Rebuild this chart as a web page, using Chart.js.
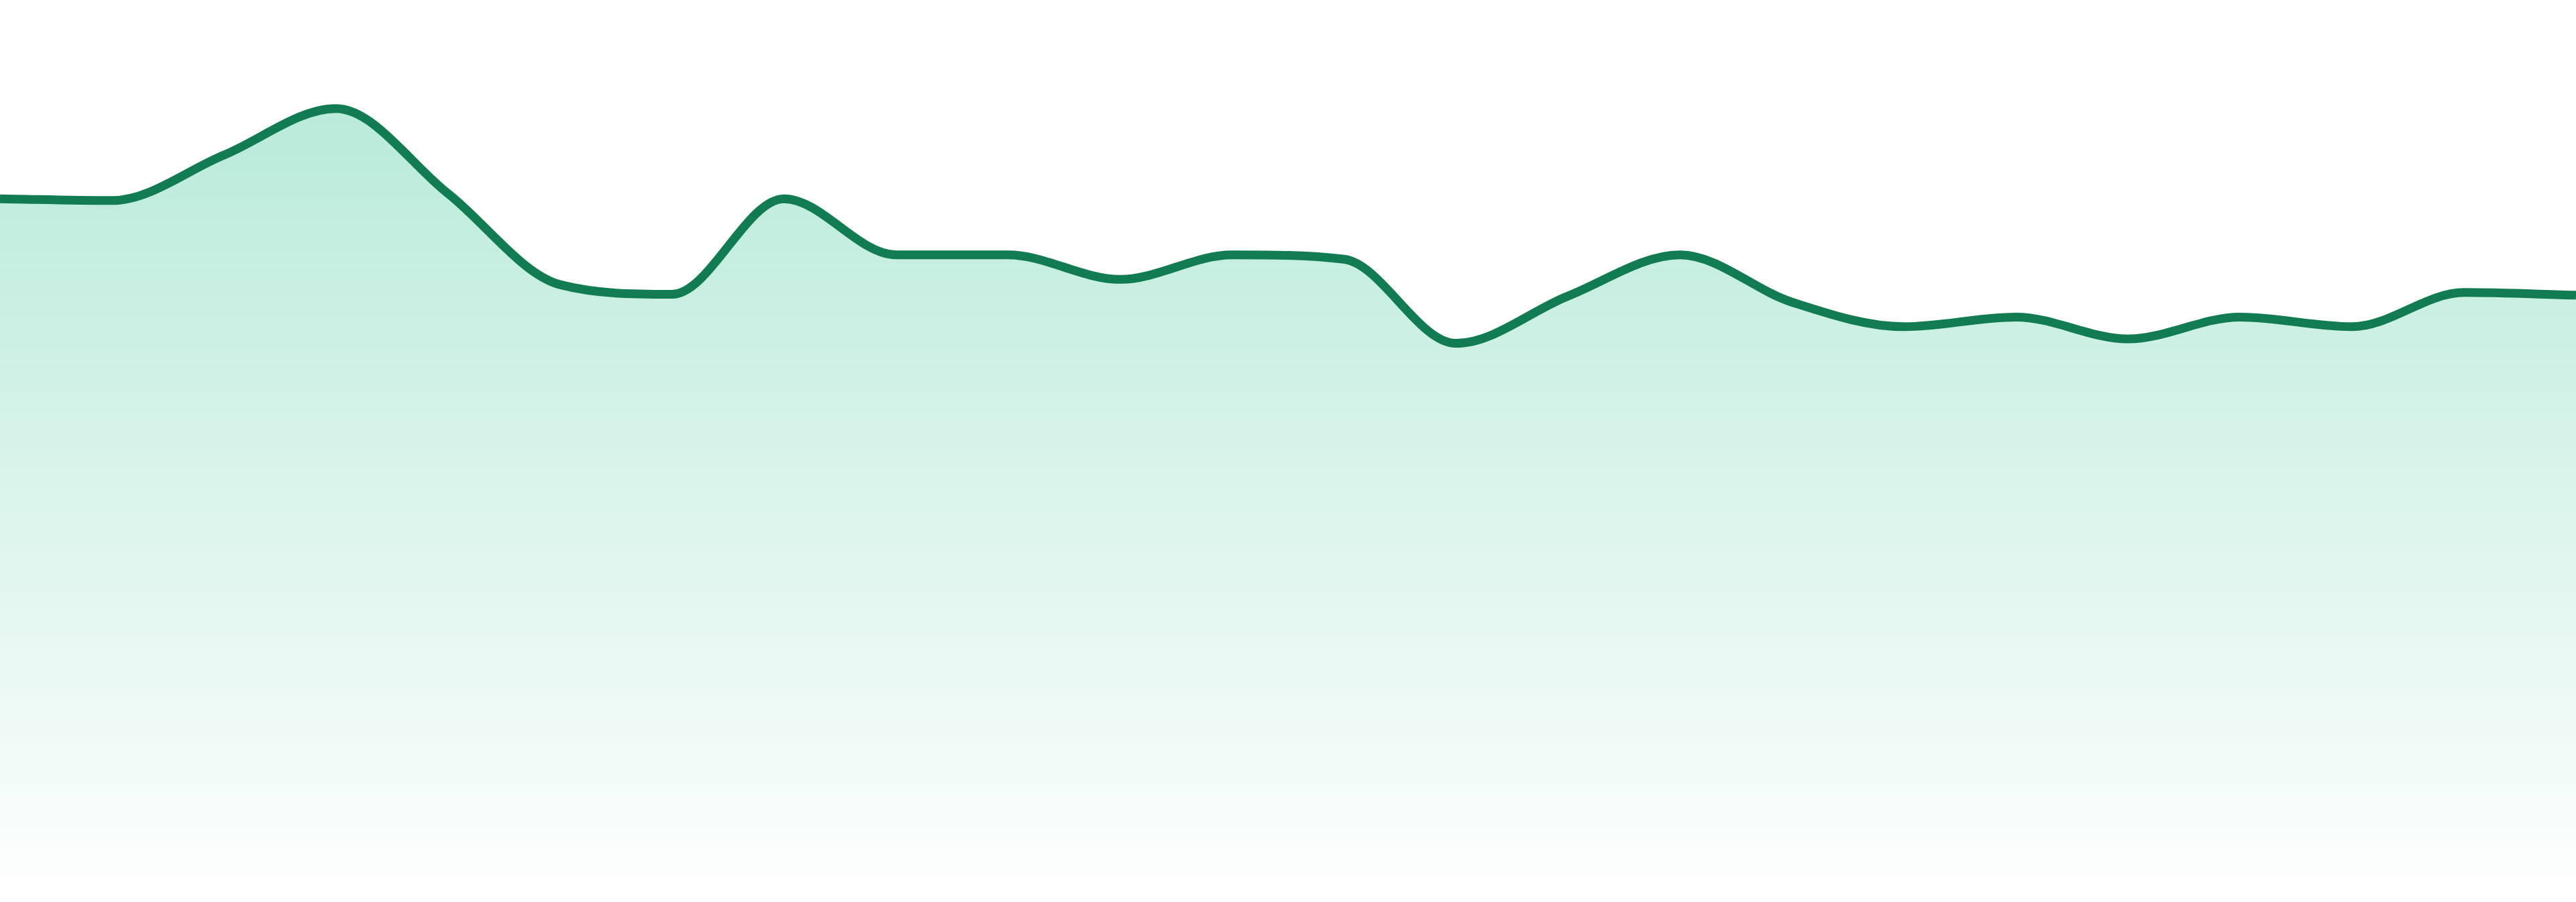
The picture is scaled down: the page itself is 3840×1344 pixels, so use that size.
<!DOCTYPE html>
<html>
<head>
<meta charset="utf-8">
<script src="https://cdn.jsdelivr.net/npm/chart.js@4/dist/chart.umd.min.js"></script>
<style>
  html, body { margin: 0; padding: 0; background: #ffffff; }
  #wrap { width: 3840px; height: 1344px; }
</style>
</head>
<body>
<div id="wrap"><canvas id="trendChart"></canvas></div>
<script>
// TREND AREA CHART

const labels = ['1', '2', '3', '4', '5', '6', '7', '8', '9', '10', '11', '12',
  '13', '14', '15', '16', '17', '18', '19', '20', '21', '22', '23', '24'];

const values = [77.3, 77.1, 82.3, 87.6, 77.9, 67.5, 66.4, 77.3, 70.9, 70.9, 68.1, 70.9,
  70.4, 60.8, 66.2, 70.9, 65.5, 62.7, 63.8, 61.3, 63.8, 62.7, 66.6, 66.3];

const yMin = 0;
const yMax = 100;

const lineColor = '#117b52';

const areaGradient = (context) => {
  const { ctx, chartArea } = context.chart;
  if (!chartArea) return 'rgba(16,185,129,0.28)';
  const g = ctx.createLinearGradient(0, chartArea.top + 100, 0, chartArea.bottom);
  g.addColorStop(0, 'rgba(16,185,129,0.31)');
  g.addColorStop(0.5, 'rgba(16,185,129,0.16)');
  g.addColorStop(1, 'rgba(16,185,129,0.01)');
  return g;
};

const renderTrendChart = () => {
  return new Chart(document.getElementById('trendChart'), {
    type: 'line',
    data: {
      labels: labels,
      datasets: [{
        data: values,
        borderColor: lineColor,
        borderWidth: 13,
        backgroundColor: areaGradient,
        fill: 'start',
        cubicInterpolationMode: 'monotone',
        pointRadius: 0,
        pointHoverRadius: 0
      }]
    },
    options: {
      responsive: true,
      maintainAspectRatio: false,
      animation: false,
      layout: {
        padding: { left: 0, right: 0, top: 0, bottom: 39 }
      },
      plugins: {
        legend: { display: false },
        tooltip: { enabled: false }
      },
      scales: {
        x: { display: false },
        y: { display: false, min: yMin, max: yMax }
      }
    }
  });
};

renderTrendChart();
</script>
</body>
</html>
